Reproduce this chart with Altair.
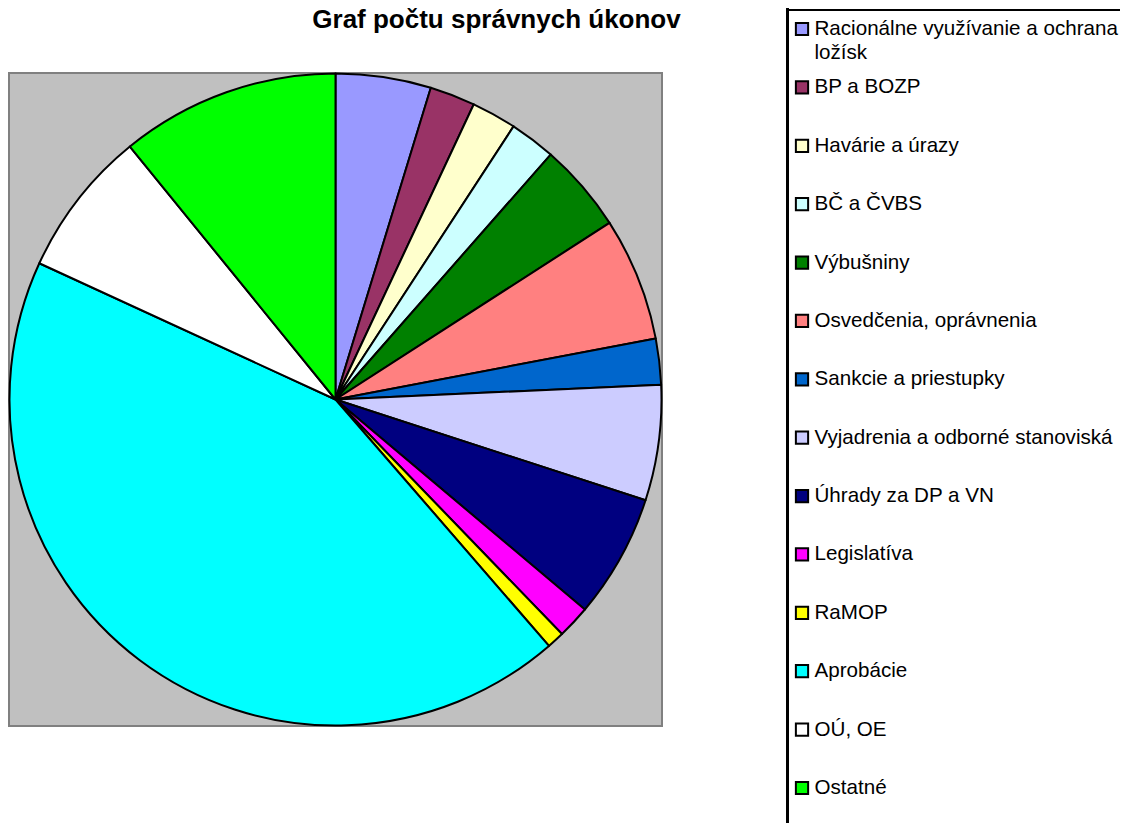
import altair as alt
import pandas as pd

categories = [
    "Racionálne využívanie a ochrana",
    "BP a BOZP",
    "Havárie a úrazy",
    "BČ a ČVBS",
    "Výbušniny",
    "Osvedčenia, oprávnenia",
    "Sankcie a priestupky",
    "Vyjadrenia a odborné stanoviská",
    "Úhrady za DP a VN",
    "Legislatíva",
    "RaMOP",
    "Aprobácie",
    "OÚ, OE",
    "Ostatné",
]
second_line = ["ložísk", "", "", "", "", "", "", "", "", "", "", "", "", ""]
values = [17.0, 8.1, 8.0, 8.2, 15.9, 22.0, 8.2, 20.6, 22.1, 5.9, 3.1, 155.6, 26.2, 39.1]
colors = [
    "#9999FF", "#993366", "#FFFFCC", "#CCFFFF", "#008000", "#FF8080", "#0066CC",
    "#CCCCFF", "#000080", "#FF00FF", "#FFFF00", "#00FFFF", "#FFFFFF", "#00FF00",
]

df = pd.DataFrame({
    "kategoria": categories,
    "riadok2": second_line,
    "pocet": values,
    "poradie": list(range(len(categories))),
})

FONT = "Liberation Sans"
color_scale = alt.Scale(domain=categories, range=colors)

pie = (
    alt.Chart(df)
    .mark_arc(outerRadius=326, stroke="black", strokeWidth=2, strokeJoin="round")
    .encode(
        theta=alt.Theta("pocet:Q", stack=True),
        color=alt.Color("kategoria:N", scale=color_scale, legend=None),
        order=alt.Order("poradie:Q"),
    )
    .properties(
        width=653,
        height=653,
        view=alt.ViewBackground(fill="#C0C0C0", stroke="#808080", strokeWidth=2),
        title=alt.TitleParams(
            text="Graf počtu správnych úkonov",
            font=FONT,
            fontSize=26,
            fontWeight="bold",
            color="black",
            anchor="middle",
            dx=161,
            offset=39.5,
        ),
    )
)

LEG_W = 332
LEG_TOP = -63
LEG_H = 760

ypos = alt.Y(
    "kategoria:N",
    sort=categories,
    scale=alt.Scale(domain=categories, range=[-44, 715], padding=0),
    axis=None,
)

symbols = (
    alt.Chart(df)
    .mark_point(shape="square", filled=True, size=150, stroke="black", strokeWidth=2, opacity=1)
    .encode(
        x=alt.value(14.5),
        y=ypos,
        fill=alt.Fill("kategoria:N", scale=color_scale, legend=None),
    )
)

labels = (
    alt.Chart(df)
    .mark_text(align="left", baseline="middle", font=FONT, fontSize=20.6, color="black")
    .encode(x=alt.value(27), y=ypos, text="kategoria:N")
)

labels2 = (
    alt.Chart(df)
    .mark_text(align="left", baseline="middle", font=FONT, fontSize=20.6, color="black", dy=24)
    .encode(x=alt.value(27), y=ypos, text="riadok2:N")
)

# frame of the legend box (top and left edges; the rest lies beyond the page)
frame_top = alt.Chart(df).mark_rule(color="black", strokeWidth=2).encode(
    x=alt.value(0), x2=alt.value(LEG_W), y=alt.value(LEG_TOP)
)
frame_left = alt.Chart(df).mark_rule(color="black", strokeWidth=2).encode(
    x=alt.value(0), y=alt.value(LEG_TOP - 5), y2=alt.value(LEG_H)
)

legend = alt.layer(frame_top, frame_left, symbols, labels, labels2).properties(
    width=LEG_W,
    height=LEG_H,
    view=alt.ViewBackground(fill=None, stroke=None, strokeWidth=0),
)

chart = (
    alt.hconcat(pie, legend, spacing=104.5)
    .properties(padding={"left": -1, "top": -4, "right": 0, "bottom": 0})
    .configure(font=FONT)
)

chart.save("out.html", embed_options={"renderer": "svg", "actions": False})
